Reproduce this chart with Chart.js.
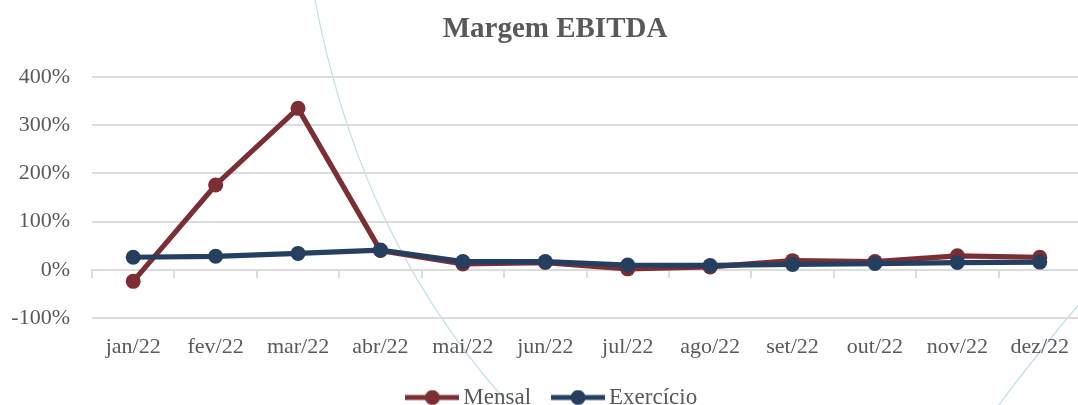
<!DOCTYPE html>
<html>
<head>
<meta charset="utf-8">
<script src="https://cdn.jsdelivr.net/npm/chart.js@4.4.1/dist/chart.umd.min.js"></script>
<style>
  html, body { margin: 0; padding: 0; overflow: hidden; background: #ffffff; }
  #wrap { position: absolute; left: 0; top: 0; width: 1110px; height: 419px; }
</style>
</head>
<body>
<div id="wrap"><canvas id="c" width="1110" height="419"></canvas></div>
<script>
// ---- data ----
const categories = ['jan/22', 'fev/22', 'mar/22', 'abr/22', 'mai/22', 'jun/22', 'jul/22', 'ago/22', 'set/22', 'out/22', 'nov/22', 'dez/22'];
const mensal = [-24, 176, 335, 40, 12, 15, 2, 6, 19, 17, 29, 26];
const exercicio = [26, 28, 34, 41, 17, 17, 10, 9, 11, 13, 15, 16];
const yTickValues = [-100, 0, 100, 200, 300, 400];
const seriesNames = ['Mensal', 'Exercício'];
const chartTitle = 'Margem EBITDA';

// ---- styles ----
const RED = '#7B2E33';
const BLUE = '#243F60';
const GRID = '#dcdcdc';
const TEXT = '#595959';
const FONT = "'Liberation Serif', 'Times New Roman', serif";

function legendImage(color) {
  const cv = document.createElement('canvas');
  cv.width = 54; cv.height = 16;
  const g = cv.getContext('2d');
  g.strokeStyle = color; g.lineWidth = 5.2; g.lineCap = 'butt';
  g.beginPath(); g.moveTo(0, 8); g.lineTo(54, 8); g.stroke();
  g.fillStyle = color;
  g.beginPath(); g.arc(27, 8, 7.5, 0, Math.PI * 2); g.fill();
  return cv;
}
const legendImgs = [legendImage(RED), legendImage(BLUE)];

const decoPlugin = {
  id: 'deco',
  afterLayout(chart) {
    // let y tick labels extend into the left padding without being clipped
    chart.scales.y.left = 0;
  },
  beforeDraw(chart) {
    const ctx = chart.ctx;
    ctx.save();
    ctx.strokeStyle = '#bfdfe9';
    ctx.lineWidth = 1.2;
    ctx.beginPath();
    ctx.moveTo(315, 0);
    ctx.bezierCurveTo(340, 130, 390, 270, 505, 400);
    ctx.stroke();
    ctx.beginPath();
    ctx.moveTo(998, 406);
    ctx.quadraticCurveTo(1040, 350, 1080, 303);
    ctx.stroke();
    ctx.restore();
  }
};

new Chart(document.getElementById('c'), {
  type: 'line',
  data: {
    labels: categories,
    datasets: [
      {
        label: seriesNames[0], data: mensal, order: 2,
        borderColor: RED, backgroundColor: RED, borderWidth: 5.2,
        pointRadius: 7.5, pointBackgroundColor: RED, pointBorderColor: RED, pointBorderWidth: 0,
        pointStyle: 'circle', tension: 0
      },
      {
        label: seriesNames[1], data: exercicio, order: 1,
        borderColor: BLUE, backgroundColor: BLUE, borderWidth: 5.2,
        pointRadius: 7.5, pointBackgroundColor: BLUE, pointBorderColor: BLUE, pointBorderWidth: 0,
        pointStyle: 'circle', tension: 0
      }
    ]
  },
  options: {
    responsive: false,
    animation: false,
    events: [],
    layout: { padding: { left: 29, right: 29, top: 0, bottom: 0 } },
    scales: {
      x: {
        type: 'category',
        offset: true,
        grid: { display: false, drawTicks: false },
        border: { display: false },
        ticks: { color: TEXT, font: { family: FONT, size: 22 }, padding: 16, maxRotation: 0, autoSkip: false },
        afterFit(scale) { scale.height = 40.5; }
      },
      x0: {
        type: 'category',
        labels: categories,
        position: { y: 0 },
        offset: true,
        grid: { offset: true, drawOnChartArea: false, drawTicks: true, tickLength: 7, color: GRID, lineWidth: 2 },
        border: { display: true, color: GRID, width: 2 },
        ticks: { display: false }
      },
      y: {
        min: -100, max: 400,
        afterBuildTicks(scale) { scale.ticks = yTickValues.map(v => ({ value: v })); },
        grid: { color: GRID, lineWidth: 2, drawTicks: false },
        border: { display: false },
        ticks: { color: TEXT, font: { family: FONT, size: 22 }, padding: 22, callback: v => v + '%' },
        afterFit(scale) { scale.width = 63; }
      }
    },
    plugins: {
      title: {
        display: true, text: chartTitle, color: TEXT,
        font: { family: FONT, size: 29, weight: 'bold' },
        padding: { top: 12, bottom: 30.2 }
      },
      legend: {
        position: 'bottom',
        labels: {
          color: TEXT, font: { family: FONT, size: 23 },
          usePointStyle: true, pointStyleWidth: 39, padding: 27.5,
          sort: (a, b) => a.datasetIndex - b.datasetIndex,
          generateLabels(chart) {
            const items = Chart.defaults.plugins.legend.labels.generateLabels(chart);
            items.forEach(it => { it.pointStyle = legendImgs[it.datasetIndex]; });
            return items;
          }
        }
      },
      tooltip: { enabled: false }
    }
  },
  plugins: [decoPlugin]
});
</script>
</body>
</html>
